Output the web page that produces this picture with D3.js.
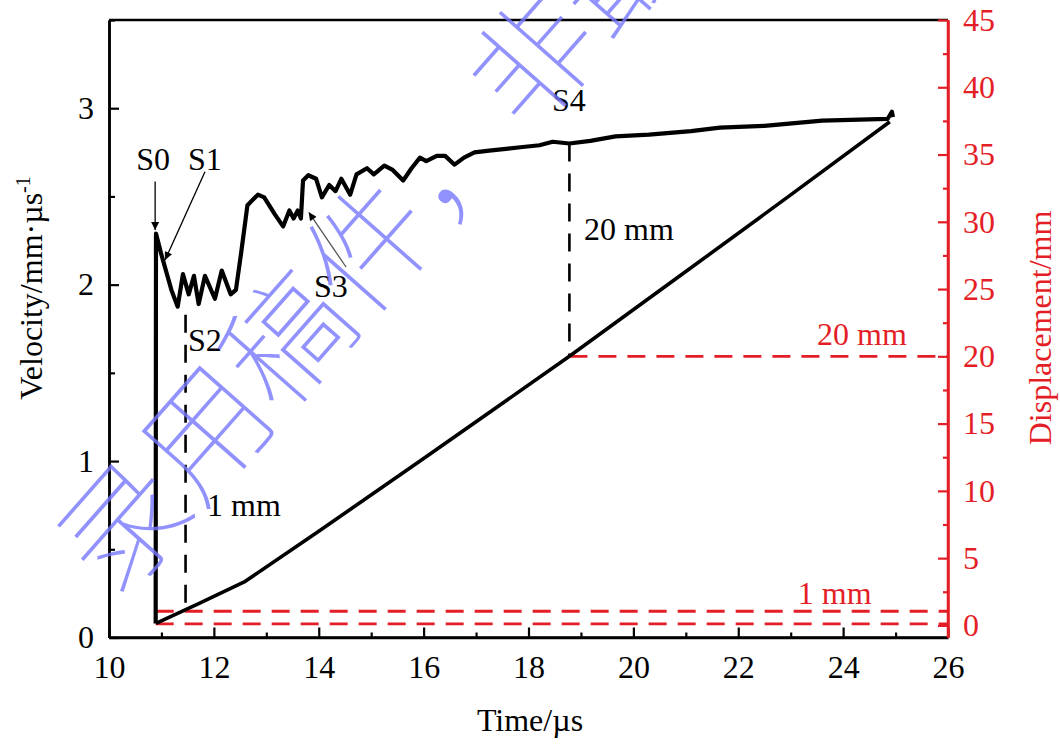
<!DOCTYPE html>
<html><head><meta charset="utf-8">
<script src="https://cdn.jsdelivr.net/npm/d3@7/dist/d3.min.js"></script>
<style>
body{margin:0;background:#fff}
svg text{font-family:"Liberation Serif","Times New Roman",serif}
</style></head>
<body><svg id="c" width="1060" height="744"></svg>
<script>
// ---------- data ----------
const timeTicks = [10, 12, 14, 16, 18, 20, 22, 24, 26];
const timeMinor = [11, 13, 15, 17, 19, 21, 23, 25];
const velTicks = [0, 1, 2, 3];
const velMinor = [0.5, 1.5, 2.5, 3.5];
const dispTicks = [0, 5, 10, 15, 20, 25, 30, 35, 40, 45];
const dispMinor = [2.5, 7.5, 12.5, 17.5, 22.5, 27.5, 32.5, 37.5, 42.5];

// velocity (mm/us) vs time (us)
const velT = [10.89, 10.896, 10.99, 11.19, 11.31, 11.41, 11.52, 11.62, 11.71, 11.83, 12.02, 12.15, 12.32, 12.42, 12.52, 12.64, 12.84, 12.96, 13.16, 13.32, 13.44, 13.52, 13.60, 13.66, 13.70, 13.80, 13.95, 14.06, 14.20, 14.32, 14.43, 14.60, 14.72, 14.92, 15.05, 15.25, 15.41, 15.61, 15.77, 15.93, 16.05, 16.25, 16.41, 16.59, 16.77, 16.97, 17.25, 17.57, 17.89, 18.21, 18.46, 18.78, 19.18, 19.66, 20.30, 21.10, 21.65, 22.50, 23.60, 24.85, 24.93, 24.95];
const velV = [0.08, 2.29, 2.18, 1.97, 1.875, 2.06, 1.945, 2.05, 1.89, 2.05, 1.92, 2.08, 1.945, 1.97, 2.18, 2.45, 2.51, 2.495, 2.40, 2.33, 2.42, 2.375, 2.42, 2.375, 2.59, 2.62, 2.60, 2.495, 2.565, 2.53, 2.60, 2.51, 2.625, 2.66, 2.625, 2.675, 2.65, 2.59, 2.66, 2.72, 2.70, 2.73, 2.73, 2.68, 2.72, 2.75, 2.76, 2.77, 2.78, 2.79, 2.81, 2.80, 2.815, 2.84, 2.85, 2.87, 2.89, 2.90, 2.93, 2.94, 2.98, 2.95];

// displacement (mm) vs time (us)
const dispT = [10.896, 11.7, 12.6, 14.0, 16.0, 18.78, 21.0, 23.0, 24.89];
const dispD = [0.15, 1.6, 3.28, 7.0, 12.4, 20.0, 26.3, 32.0, 37.44];

// reference levels (mm) and marker times (us)
const refDisp = [0.12, 1.05, 20];
const refStart = [10.89, 10.89, 18.78];
const markT = [11.46, 18.78];
const markV = [1.83, 2.80];
const markD = [1.18, 20.0];

const labels = ["S0", "S1", "S2", "S3", "S4"];
const labelT = [10.84, 11.83, 11.83, 14.23, 18.77];
const labelV = [2.715, 2.715, 1.69, 1.995, 3.05];

const watermark = "录用稿件，非最终出版稿";

// ---------- layout ----------
const svg = d3.select("#c");
const L = 109, R = 948, T = 20, B = 637.5;
const red = "#e41e26";
const x = d3.scaleLinear().domain([10, 26]).range([L, R]);
const yV = d3.scaleLinear().domain([0, 3.5]).range([B, T]);
const yD = d3.scaleLinear().domain([-0.9, 45]).range([B, T]);

const defs = svg.append("defs");
defs.append("marker").attr("id", "ah").attr("viewBox", "0 0 10 10").attr("refX", 10).attr("refY", 5)
  .attr("markerWidth", 10).attr("markerHeight", 8).attr("markerUnits", "userSpaceOnUse").attr("orient", "auto")
  .append("path").attr("d", "M0,0L10,5L0,10z").attr("fill", "#000");

// top frame
svg.append("line").attr("x1", L).attr("x2", R).attr("y1", T).attr("y2", T).attr("stroke", "#000").attr("stroke-width", 2.5);

function styleAxis(g, color) {
  g.selectAll("path.domain").attr("stroke", color).attr("stroke-width", 2.5);
  g.selectAll(".tick line").attr("stroke", color).attr("stroke-width", 2.2);
  g.selectAll("text").attr("fill", color).style("font-size", "32px").style("font-family", '"Liberation Serif","Times New Roman",serif');
}

// bottom axis
const gx = svg.append("g").attr("transform", `translate(0,${B})`)
  .call(d3.axisBottom(x).tickValues(timeTicks).tickSize(-10).tickSizeOuter(0).tickPadding(18).tickFormat(d3.format("d")));
styleAxis(gx, "#000");
const gxm = svg.append("g").attr("transform", `translate(0,${B})`)
  .call(d3.axisBottom(x).tickValues(timeMinor).tickSize(-5).tickSizeOuter(0).tickFormat(""));
styleAxis(gxm, "#000");

// left axis
const gy = svg.append("g").attr("transform", `translate(${L},0)`)
  .call(d3.axisLeft(yV).tickValues(velTicks).tickSize(-10).tickSizeOuter(0).tickPadding(15).tickFormat(d3.format("d")));
styleAxis(gy, "#000");
const gym = svg.append("g").attr("transform", `translate(${L},0)`)
  .call(d3.axisLeft(yV).tickValues(velMinor).tickSize(-6).tickSizeOuter(0).tickFormat(""));
styleAxis(gym, "#000");

// right axis
const gr = svg.append("g").attr("transform", `translate(${R},0)`)
  .call(d3.axisRight(yD).tickValues(dispTicks).tickSize(-10).tickSizeOuter(0).tickPadding(15).tickFormat(d3.format("d")));
styleAxis(gr, red);
const grm = svg.append("g").attr("transform", `translate(${R},0)`)
  .call(d3.axisRight(yD).tickValues(dispMinor).tickSize(-5).tickSizeOuter(0).tickFormat(""));
styleAxis(grm, red);
gr.selectAll("path.domain").attr("d", `M0,${B}V${T}`);
gx.selectAll("path.domain").attr("d", `M${L},0H${R}`);

// axis titles
svg.append("text").attr("x", 530).attr("y", 731).attr("text-anchor", "middle").style("font-size", "32px").text("Time/µs");
const vt = svg.append("text").attr("transform", "translate(42,288) rotate(-90)").attr("text-anchor", "middle").style("font-size", "32px");
vt.append("tspan").text("Velocity/mm·µs");
vt.append("tspan").attr("dy", -12).style("font-size", "20px").text("-1");
svg.append("text").attr("transform", "translate(1051,328) rotate(-90)").attr("text-anchor", "middle")
  .attr("fill", red).style("font-size", "32px").text("Displacement/mm");

// red dashed reference lines
svg.append("g").selectAll("line").data(refDisp).join("line")
  .attr("x1", (d, i) => x(refStart[i])).attr("x2", R)
  .attr("y1", d => yD(d)).attr("y2", d => yD(d))
  .attr("stroke", red).attr("stroke-width", 2.8).attr("stroke-dasharray", "18,11");

// black dashed markers
svg.append("g").selectAll("line").data(markT).join("line")
  .attr("x1", d => x(d)).attr("x2", d => x(d))
  .attr("y1", (d, i) => yV(markV[i])).attr("y2", (d, i) => yD(markD[i]))
  .attr("stroke", "#000").attr("stroke-width", 2.6).attr("stroke-dasharray", "18,12");

// displacement line
const dispData = dispT.map((t, i) => [t, dispD[i]]);
svg.append("path").datum(dispData)
  .attr("d", d3.line().x(d => x(d[0])).y(d => yD(d[1])))
  .attr("fill", "none").attr("stroke", "#000").attr("stroke-width", 3.6).attr("stroke-linejoin", "round");

// velocity line
const velData = velT.map((t, i) => [t, velV[i]]);
svg.append("path").datum(velData)
  .attr("d", d3.line().x(d => x(d[0])).y(d => yV(d[1])))
  .attr("fill", "none").attr("stroke", "#000").attr("stroke-width", 4.2).attr("stroke-linejoin", "round");

// annotation labels
svg.append("g").selectAll("text").data(labels).join("text")
  .attr("x", (d, i) => x(labelT[i])).attr("y", (d, i) => yV(labelV[i]))
  .attr("dy", "0.35em").attr("text-anchor", "middle").style("font-size", "32px").text(d => d);

svg.append("text").attr("x", x(19.06)).attr("y", yV(2.315)).attr("dy", "0.35em").style("font-size", "32px").text("20 mm");
svg.append("text").attr("x", x(11.87)).attr("y", yV(0.75)).attr("dy", "0.35em").style("font-size", "32px").text("1 mm");
svg.append("text").attr("x", x(24.36)).attr("y", yD(21.7)).attr("dy", "0.35em").attr("text-anchor", "middle")
  .attr("fill", red).style("font-size", "32px").text("20 mm");
svg.append("text").attr("x", x(23.84)).attr("y", yD(2.45)).attr("dy", "0.35em").attr("text-anchor", "middle")
  .attr("fill", red).style("font-size", "32px").text("1 mm");

// arrows
const arrows = [
  {t1: 10.88, v1: 2.585, t2: 10.88, v2: 2.31, c: "#000"},
  {t1: 11.83, v1: 2.64, t2: 11.07, v2: 2.14, c: "#000"},
  {t1: 14.52, v1: 2.10, t2: 13.81, v2: 2.41, c: "#555"}
];
svg.append("g").selectAll("line").data(arrows).join("line")
  .attr("x1", d => x(d.t1)).attr("y1", d => yV(d.v1)).attr("x2", d => x(d.t2)).attr("y2", d => yV(d.v2))
  .attr("stroke", d => d.c).attr("stroke-width", 1.3).attr("marker-end", "url(#ah)");

// watermark
svg.append("text").attr("transform", "translate(76,566) rotate(-48.6)")
  .attr("dominant-baseline", "central")
  .style("font-family", '"Noto Sans CJK SC","Noto Sans CJK JP",sans-serif')
  .style("font-size", "124px").style("font-weight", 100)
  .attr("fill", "#7878ff").attr("opacity", 0.8).text(watermark);
</script></body></html>
